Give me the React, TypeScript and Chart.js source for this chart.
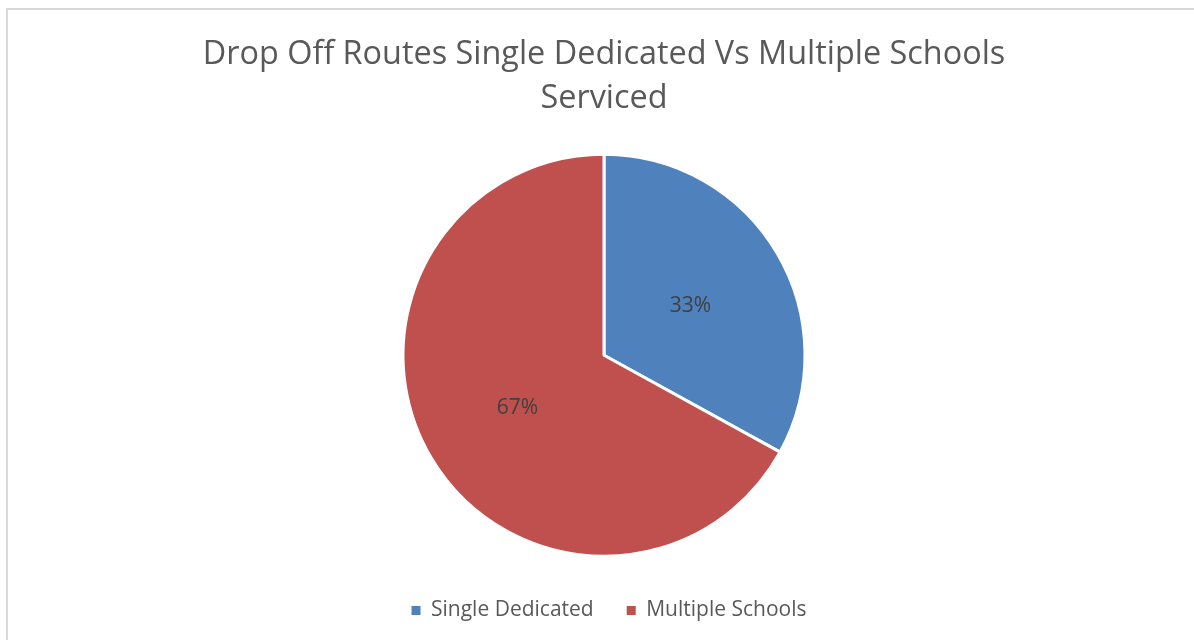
import React, { useEffect, useRef } from "react";
import { Chart, registerables } from "chart.js";

Chart.register(...registerables);

const titleLines = ["Drop Off Routes Single Dedicated Vs Multiple Schools", "Serviced"];
const categories = ["Single Dedicated", "Multiple Schools"];
const values = [33, 67];
const colors = ["#4F81BD", "#C0504D"];

const FONT = "'Open Sans', 'DejaVu Sans', sans-serif";

const pctLabels = {
  id: "pctLabels",
  afterDatasetsDraw(chart: any) {
    const ctx = chart.ctx;
    const meta = chart.getDatasetMeta(0);
    const data = chart.data.datasets[0].data as number[];
    const total = data.reduce((a, b) => a + b, 0);
    ctx.save();
    ctx.font = `21px ${FONT}`;
    ctx.fillStyle = "#404040";
    ctx.textAlign = "center";
    ctx.textBaseline = "middle";
    meta.data.forEach((arc: any, i: number) => {
      const p = arc.tooltipPosition();
      ctx.fillText(Math.round((data[i] / total) * 100) + "%", p.x, p.y + 2);
    });
    ctx.restore();
  },
};

const legendShift = {
  id: "legendShift",
  afterLayout(chart: any) {
    if (chart.legend) {
      chart.legend.left += 10;
    }
  },
};

export default function App() {
  const ref = useRef<HTMLCanvasElement>(null);
  useEffect(() => {
    if (!ref.current) return;
    const baseGen = (Chart as any).overrides.doughnut.plugins.legend.labels.generateLabels;
    const chart = new Chart(ref.current, {
      type: "pie",
      data: {
        labels: categories,
        datasets: [
          {
            data: values,
            backgroundColor: colors,
            borderColor: "#ffffff",
            borderWidth: 3,
            radius: 201,
          },
        ],
      },
      options: {
        responsive: false,
        animation: false,
        rotation: 0,
        layout: { padding: { top: 0, bottom: 9, left: 14, right: 0 } },
        plugins: {
          title: {
            display: true,
            text: titleLines,
            color: "#595959",
            font: { family: FONT, size: 32.4, weight: "normal", lineHeight: 1.35 },
            padding: { top: 33, bottom: 23 },
          },
          legend: {
            position: "bottom",
            labels: {
              boxWidth: 9,
              boxHeight: 9,
              padding: 33,
              color: "#595959",
              font: { family: FONT, size: 21 },
              generateLabels: (c: any) =>
                baseGen(c).map((l: any) => ({ ...l, lineWidth: 0, strokeStyle: "rgba(0,0,0,0)" })),
            },
          },
          tooltip: { enabled: false },
        },
      },
      plugins: [pctLabels, legendShift],
    });
    return () => chart.destroy();
  }, []);
  return (
    <div style={{ position: "absolute", left: 0, top: 0, width: 1194, height: 640, overflow: "hidden", background: "#fff" }}>
      <div
        style={{
          position: "absolute",
          left: 6,
          top: 8,
          width: 1210,
          height: 660,
          border: "2px solid #D9D9D9",
          boxSizing: "border-box",
        }}
      />
      <canvas ref={ref} width={1194} height={640} style={{ position: "absolute", left: 0, top: 0 }} />
    </div>
  );
}
